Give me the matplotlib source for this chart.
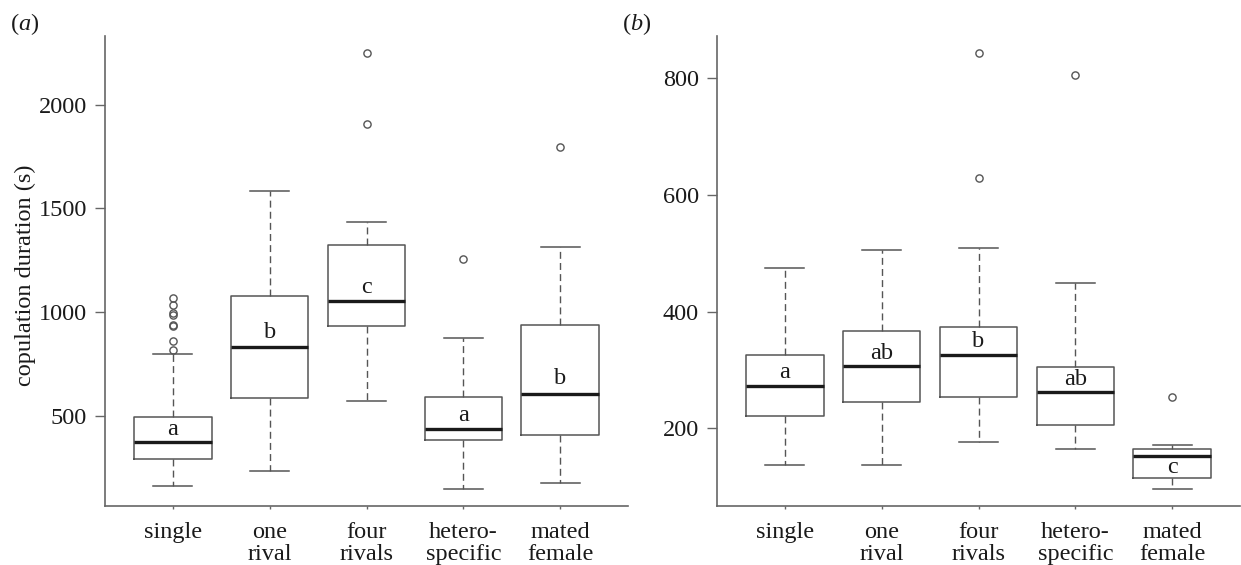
import matplotlib
matplotlib.use("Agg")
import matplotlib.pyplot as plt

plt.rcParams["font.family"] = ["Liberation Serif", "DejaVu Serif"]
plt.rcParams["mathtext.fontset"] = "custom"
plt.rcParams["mathtext.rm"] = "Liberation Serif"
plt.rcParams["mathtext.it"] = "Liberation Serif:italic"

groups = ["single", "one\nrival", "four\nrivals", "hetero-\nspecific", "mated\nfemale"]

# panel (a): copulation duration
a_whislo = [163, 234, 569, 149, 175]
a_q1 = [290, 587, 931, 383, 408]
a_med = [373, 830, 1051, 436, 604]
a_q3 = [495, 1077, 1322, 590, 938]
a_whishi = [799, 1585, 1433, 874, 1312]
a_fliers = [[1067, 1035, 995, 985, 938, 932, 862, 815], [], [2247, 1908], [1256], [1798]]
a_letters = ["a", "b", "c", "a", "b"]
a_letter_y = [408, 877, 1091, 474, 651]
a_ticks = [500, 1000, 1500, 2000]

# panel (b)
b_whislo = [138, 138, 176, 164, 97]
b_q1 = [222, 246, 253, 206, 115]
b_med = [272, 307, 326, 262, 153]
b_q3 = [326, 367, 374, 306, 164]
b_whishi = [475, 505, 509, 449, 171]
b_fliers = [[], [], [842, 629], [805], [254]]
b_letters = ["a", "ab", "b", "ab", "c"]
b_letter_y = [287, 318, 340, 274, 123]
b_ticks = [200, 400, 600, 800]

GREY = "#555555"
TXT = "#1a1a1a"
FS = 17.5


def draw_panel(ax, whislo, q1, med, q3, whishi, fliers, letters, letter_y, ticks, tag):
    stats = []
    for i in range(len(groups)):
        stats.append(dict(whislo=whislo[i], q1=q1[i], med=med[i], q3=q3[i],
                          whishi=whishi[i], fliers=fliers[i]))
    pos = list(range(1, len(groups) + 1))
    ax.bxp(stats, positions=pos, widths=0.8, capwidths=0.4,
           boxprops=dict(color=GREY, linewidth=1.1),
           whiskerprops=dict(color=GREY, linewidth=1.0, linestyle=(0, (5, 3))),
           capprops=dict(color=GREY, linewidth=1.1),
           medianprops=dict(color=TXT, linewidth=2.4, solid_capstyle="butt"),
           flierprops=dict(marker="o", markersize=5.2, markerfacecolor="none",
                           markeredgecolor=GREY, markeredgewidth=1.0))
    # R-style 4% padding around the data range
    all_vals = whislo + whishi + [v for f in fliers for v in f]
    lo, hi = min(all_vals), max(all_vals)
    pad = 0.04 * (hi - lo)
    ax.set_ylim(lo - pad, hi + pad)
    ax.set_xlim(0.3, len(groups) + 0.7)

    for p, lab, y in zip(pos, letters, letter_y):
        ax.text(p, y, lab, ha="center", va="baseline", fontsize=FS, color=TXT)

    ax.set_yticks(ticks)
    ax.set_xticks(pos)
    ax.set_xticklabels(groups, linespacing=1.05)
    for s in ["top", "right"]:
        ax.spines[s].set_visible(False)
    for s in ["left", "bottom"]:
        ax.spines[s].set_color("#666666")
        ax.spines[s].set_linewidth(1.2)
    ax.tick_params(axis="y", length=7, width=1.0, color="#666666", pad=6,
                   labelsize=FS, labelcolor=TXT)
    ax.tick_params(axis="x", length=2.5, width=1.0, color="#666666", pad=9,
                   labelsize=FS, labelcolor=TXT)
    ax.text(-0.182, 1.026, "(" + "$" + tag + "$" + ")", transform=ax.transAxes,
            fontsize=FS, ha="left", va="center", color=TXT)


fig = plt.figure(figsize=(12.41, 5.65), dpi=100)
ax1 = fig.add_axes([105 / 1241, 59 / 565, 523 / 1241, 470 / 565])
ax2 = fig.add_axes([717 / 1241, 59 / 565, 523 / 1241, 470 / 565])

draw_panel(ax1, a_whislo, a_q1, a_med, a_q3, a_whishi, a_fliers,
           a_letters, a_letter_y, a_ticks, "a")
draw_panel(ax2, b_whislo, b_q1, b_med, b_q3, b_whishi, b_fliers,
           b_letters, b_letter_y, b_ticks, "b")

ax1.set_ylabel("copulation duration (s)", fontsize=FS, color=TXT)
ax1.yaxis.set_label_coords(-0.132, 0.49)

fig.savefig("out.png", dpi=100)
